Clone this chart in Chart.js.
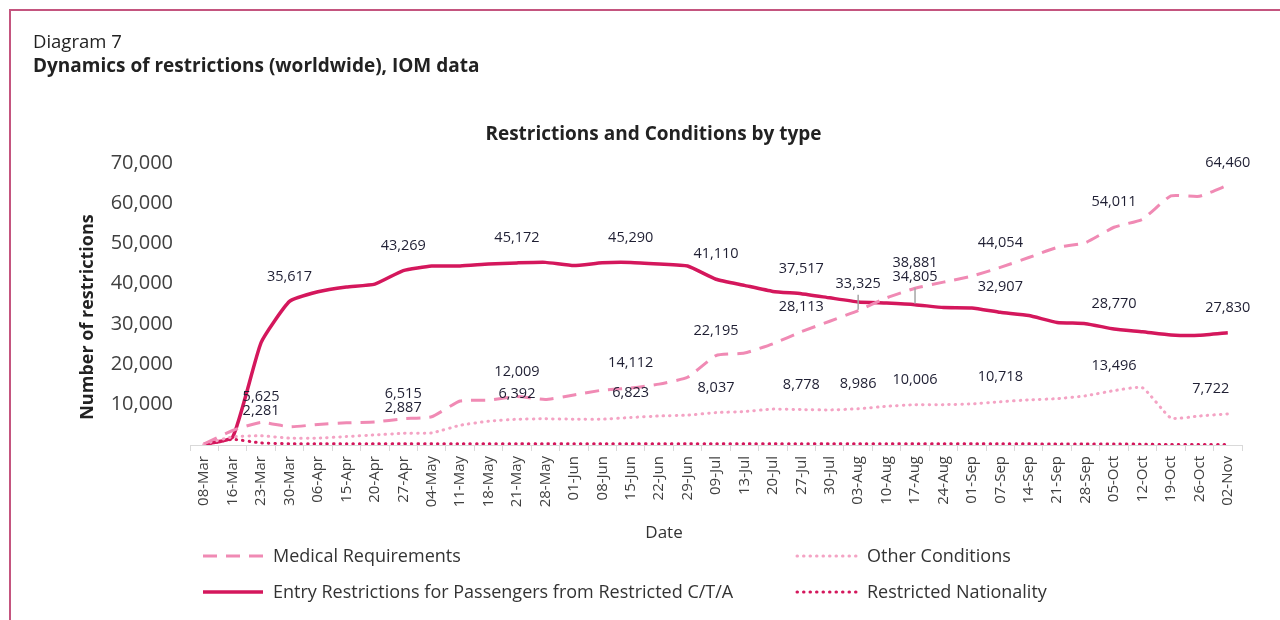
<!DOCTYPE html>
<html>
<head>
<meta charset="utf-8">
<script src="https://cdn.jsdelivr.net/npm/chart.js@4.4.1/dist/chart.umd.min.js"></script>
<style>
  html, body { margin: 0; padding: 0; background: #fff; overflow: hidden; }
  #wrap { position: relative; width: 1280px; height: 620px; overflow: hidden; }
  #frame { position: absolute; left: 9px; top: 9px; width: 1300px; height: 640px;
           border-top: 2px solid #c4557f; border-left: 2px solid #c4557f; }
  #head { position: absolute; left: 33px; top: 28px; font-family: "Open Sans", sans-serif; color: #222; }
  #head .sub { font-size: 18.5px; line-height: 25px; }
  #head .main { font-size: 19px; font-weight: bold; line-height: 25px; }
  #chart { position: absolute; left: 0; top: 0; }
</style>
</head>
<body>
<div id="wrap">
  <div id="frame"></div>
  <canvas id="chart" width="1280" height="620"></canvas>
  <div id="head">
    <div class="sub">Diagram 7</div>
    <div class="main">Dynamics of restrictions (worldwide), IOM data</div>
  </div>
</div>
<script>
// dates du rapport
var dates = ["08-Mar", "16-Mar", "23-Mar", "30-Mar", "06-Apr", "15-Apr", "20-Apr", "27-Apr", "04-May", "11-May",
    "18-May", "21-May", "28-May", "01-Jun", "08-Jun", "15-Jun", "22-Jun", "29-Jun", "09-Jul", "13-Jul",
    "20-Jul", "27-Jul", "30-Jul", "03-Aug", "10-Aug", "17-Aug", "24-Aug", "01-Sep", "07-Sep", "14-Sep",
    "21-Sep", "28-Sep", "05-Oct", "12-Oct", "19-Oct", "26-Oct", "02-Nov"];

var medical = [300, 3600, 5625, 4500, 5100, 5500, 5700, 6515, 7000, 10900,
    11100, 12009, 11300, 12400, 13600, 14112, 15100, 16800, 22195, 22800,
    25100, 28113, 30700, 33325, 36500, 38881, 40400, 41900, 44054, 46500,
    49000, 50200, 54011, 56000, 61800, 61700, 64460];

var other = [300, 2000, 2281, 1700, 1700, 2100, 2500, 2887, 3000, 4900,
    5900, 6392, 6500, 6400, 6400, 6823, 7200, 7400, 8037, 8300,
    8900, 8778, 8700, 8986, 9600, 10006, 10000, 10200, 10718, 11200,
    11500, 12200, 13496, 14200, 6700, 7200, 7722];

var entry = [200, 1970, 25400, 35617, 38000, 39200, 39900, 43269, 44400, 44400,
    44900, 45172, 45300, 44500, 45200, 45290, 44900, 44400, 41110, 39600,
    38100, 37517, 36500, 35500, 35200, 34805, 34100, 34000, 32907, 32100,
    30400, 30100, 28770, 28100, 27300, 27200, 27830];

var nationality = [100, 1400, 500, 320, 310, 300, 300, 310, 300, 300,
    300, 300, 290, 300, 300, 300, 290, 300, 300, 290,
    300, 300, 290, 300, 300, 290, 300, 290, 280, 280,
    270, 260, 250, 200, 120, 100, 100];

var yTicks = [10000, 20000, 30000, 40000, 50000, 60000, 70000];

// quels points portent une etiquette (dataset, index, decalage)
var labelSpots = [
    // Medical
    [0, 2], [0, 7], [0, 11], [0, 15], [0, 18], [0, 21], [0, 23, 0, -27, true], [0, 25], [0, 28], [0, 32], [0, 36, 0, -22],
    // Other
    [1, 2], [1, 7], [1, 11], [1, 15], [1, 18], [1, 21], [1, 23], [1, 25], [1, 28], [1, 32], [1, 36, -17, -25],
    // Entry
    [2, 3], [2, 7], [2, 11], [2, 15], [2, 18], [2, 21], [2, 25, 0, -28, true], [2, 28], [2, 32], [2, 36]
];

var CRIMSON = "#d4175c";
var PINK = "#f08ab4";
var LIGHTPINK = "#f4a3c4";
var FONT = "'Open Sans', sans-serif";

var pointLabels = {
    id: "pointLabels",
    afterDatasetsDraw: function (chart) {
        var ctx = chart.ctx;
        ctx.save();
        ctx.font = "14.5px " + FONT;
        ctx.fillStyle = "#1f1f33";
        ctx.textAlign = "center";
        ctx.textBaseline = "middle";
        labelSpots.forEach(function (s) {
            var pt = chart.getDatasetMeta(s[0]).data[s[1]];
            var val = chart.data.datasets[s[0]].data[s[1]];
            var dx = s[2] || 0, dy = (s[3] === undefined) ? -25 : s[3];
            ctx.fillText(val.toLocaleString("en-US"), pt.x + dx, pt.y + dy);
            if (s[4]) {
                ctx.strokeStyle = "#a6a6a6";
                ctx.lineWidth = 1.5;
                ctx.beginPath();
                ctx.moveTo(pt.x, pt.y + dy + 11);
                ctx.lineTo(pt.x, pt.y - 1);
                ctx.stroke();
            }
        });
        ctx.restore();
    }
};

// titres des axes + legende sur deux colonnes
var legendBox = {
    id: "legendBox",
    afterDraw: function (chart) {
        var ctx = chart.ctx;
        ctx.save();
        ctx.textAlign = "center";
        ctx.textBaseline = "middle";
        ctx.fillStyle = "#333";
        ctx.font = "17px " + FONT;
        ctx.fillText("Date", 664, 533);
        ctx.translate(88, 317);
        ctx.rotate(-Math.PI / 2);
        ctx.fillStyle = "#222";
        ctx.font = "bold 18px " + FONT;
        ctx.fillText("Number of restrictions", 0, 0);
        ctx.restore();

        var items = [
            [0, 203, 556], [1, 797, 556],
            [2, 203, 592], [3, 797, 592]
        ];
        ctx.save();
        ctx.font = "18px " + FONT;
        ctx.textBaseline = "middle";
        items.forEach(function (it) {
            var ds = chart.data.datasets[it[0]];
            ctx.strokeStyle = ds.borderColor;
            ctx.lineWidth = ds.borderWidth;
            ctx.lineCap = ds.borderCapStyle || "butt";
            ctx.setLineDash(ds.borderDash || []);
            ctx.beginPath();
            ctx.moveTo(it[1], it[2]);
            ctx.lineTo(it[1] + 60, it[2]);
            ctx.stroke();
            ctx.setLineDash([]);
            ctx.fillStyle = "#333";
            ctx.fillText(ds.label, it[1] + 70, it[2] + 1);
        });
        ctx.restore();
    }
};

var ctx = document.getElementById("chart").getContext("2d");
new Chart(ctx, {
    type: "line",
    data: {
        labels: dates,
        datasets: [
            {
                label: "Medical Requirements",
                data: medical,
                borderColor: PINK,
                borderWidth: 3,
                borderDash: [14, 9],
                pointRadius: 0,
                tension: 0.15,
                fill: false
            },
            {
                label: "Other Conditions",
                data: other,
                borderColor: LIGHTPINK,
                borderWidth: 3,
                borderDash: [0.5, 6],
                borderCapStyle: "round",
                pointRadius: 0,
                tension: 0.15,
                fill: false
            },
            {
                label: "Entry Restrictions for Passengers from Restricted C/T/A",
                data: entry,
                borderColor: CRIMSON,
                borderWidth: 3.5,
                pointRadius: 0,
                tension: 0.15,
                fill: false
            },
            {
                label: "Restricted Nationality",
                data: nationality,
                borderColor: CRIMSON,
                borderWidth: 3,
                borderDash: [0.5, 6],
                borderCapStyle: "round",
                pointRadius: 0,
                tension: 0.15,
                fill: false
            }
        ]
    },
    options: {
        responsive: false,
        animation: false,
        layout: { padding: { top: 123, left: 65, right: 38, bottom: 75 } },
        plugins: {
            legend: { display: false },
            tooltip: { enabled: false },
            title: {
                display: true,
                text: "Restrictions and Conditions by type",
                color: "#222",
                font: { family: FONT, size: 19, weight: "bold" },
                padding: { top: 0, bottom: 17 }
            }
        },
        scales: {
            x: {
                offset: true,
                grid: { display: true, drawOnChartArea: false, color: "#d9d9d9", tickLength: 6, offset: true },
                border: { display: true, color: "#d9d9d9", width: 1 },
                ticks: {
                    autoSkip: false, minRotation: 90, maxRotation: 90,
                    color: "#404040", padding: 5,
                    font: { family: FONT, size: 15 }
                },
                afterFit: function (scale) { scale.height = 100; }
            },
            y: {
                min: 0, max: 70000,
                grid: { display: false },
                border: { display: false },
                afterBuildTicks: function (scale) {
                    scale.ticks = [0].concat(yTicks).map(function (v) { return { value: v }; });
                },
                ticks: {
                    color: "#404040", padding: 9,
                    font: { family: FONT, size: 20 },
                    callback: function (v) { return v === 0 ? "" : v.toLocaleString("en-US"); }
                },
                afterFit: function (scale) { scale.width = 125; }
            }
        }
    },
    plugins: [pointLabels, legendBox]
});
</script>
</body>
</html>
